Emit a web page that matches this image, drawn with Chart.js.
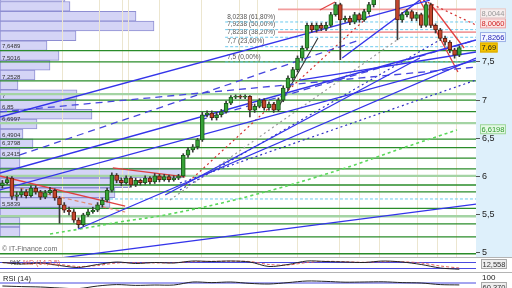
<!DOCTYPE html>
<html>
<head>
<meta charset="utf-8">
<script src="https://cdn.jsdelivr.net/npm/chart.js@4.4.1/dist/chart.umd.min.js"></script>
<style>
  html, body { margin: 0; padding: 0; background: #fff; }
  #wrap { position: relative; width: 512px; height: 288px; overflow: hidden; }
  #wrap canvas, .sep { position: absolute; left: 0; }
  #profile, #main { top: 0; }
  #stoch { top: 258px; }
  #rsi { top: 273px; }
  .sep { width: 512px; height: 1px; background: #b4b4b4; }
</style>
</head>
<body>
<div id="wrap">
  <canvas id="profile" width="512" height="257"></canvas>
  <canvas id="main" width="512" height="257"></canvas>
  <div class="sep" style="top:257px"></div>
  <canvas id="stoch" width="512" height="14"></canvas>
  <div class="sep" style="top:272px"></div>
  <canvas id="rsi" width="512" height="15"></canvas>
</div>
<script>
// price range of the main panel
const yMin = 4.9476, yMax = 8.3115;
const yTicks = [5, 5.5, 6, 6.5, 7, 7.5];

// daily candles
const opens = [5.88,5.92,5.98,5.74,5.76,5.80,5.75,5.85,5.80,5.73,5.79,5.82,5.72,5.63,5.56,5.54,5.43,5.37,5.50,5.54,
  5.56,5.63,5.69,5.82,6.02,5.95,5.92,5.98,5.89,5.95,5.92,5.98,5.93,6.01,5.96,6.00,5.96,5.98,6.01,6.28,
  6.35,6.39,6.48,6.81,6.83,6.77,6.81,6.85,6.96,7.04,7.05,7.04,7.05,6.87,6.92,7.00,6.90,6.95,6.87,7.00,
  7.16,7.29,7.40,7.55,7.68,7.98,7.92,7.98,7.94,7.98,8.12,8.25,8.05,8.07,8.02,8.12,8.05,8.16,8.25,8.36,
  8.40,8.38,8.42,8.35,8.05,8.12,8.16,8.07,8.12,7.98,8.25,7.98,7.92,7.81,7.76,7.66,7.59];
const closes = [5.92,5.96,5.74,5.76,5.80,5.75,5.85,5.80,5.73,5.79,5.82,5.72,5.63,5.56,5.54,5.43,5.37,5.50,5.54,5.56,
  5.63,5.69,5.82,6.02,5.95,5.92,5.98,5.89,5.95,5.92,5.98,5.93,6.01,5.96,6.00,5.96,5.98,6.01,6.28,6.35,
  6.39,6.48,6.81,6.83,6.77,6.81,6.85,6.96,7.04,7.05,7.04,7.05,6.87,6.92,7.00,6.90,6.95,6.87,7.00,7.16,
  7.29,7.40,7.55,7.68,7.98,7.92,7.98,7.94,7.98,8.12,8.25,8.05,8.07,8.02,8.12,8.05,8.16,8.25,8.36,8.40,
  8.38,8.42,8.35,8.05,8.12,8.16,8.07,8.12,7.98,8.25,7.98,7.92,7.81,7.76,7.66,7.59,7.69];
const highs = [5.95,6.00,6.00,5.80,5.84,5.83,5.88,5.88,5.82,5.82,5.86,5.84,5.74,5.66,5.60,5.57,5.46,5.52,5.57,5.60,
  5.66,5.72,5.85,6.05,6.04,5.98,6.01,6.00,5.98,5.97,6.01,6.00,6.04,6.03,6.03,6.02,6.01,6.03,6.30,6.38,
  6.42,6.50,6.84,6.86,6.86,6.84,6.88,6.99,7.06,7.07,7.07,7.07,7.06,6.95,7.02,7.02,6.98,6.97,7.03,7.19,
  7.32,7.43,7.58,7.71,8.01,8.01,8.01,8.01,8.02,8.15,8.28,8.27,8.10,8.10,8.15,8.14,8.19,8.28,8.39,8.43,
  8.43,8.45,8.44,8.37,8.15,8.19,8.18,8.15,8.14,8.28,8.27,8.00,7.94,7.84,7.78,7.68,7.71];
const lows = [5.85,5.90,5.70,5.69,5.73,5.72,5.73,5.77,5.70,5.71,5.77,5.69,5.39,5.53,5.50,5.40,5.33,5.35,5.48,5.52,
  5.54,5.60,5.67,5.80,5.92,5.88,5.90,5.86,5.87,5.89,5.90,5.90,5.91,5.93,5.94,5.93,5.94,5.96,5.99,6.25,
  6.32,6.36,6.46,6.78,6.74,6.74,6.78,6.83,6.94,7.02,7.02,7.02,6.78,6.84,6.90,6.87,6.87,6.84,6.85,6.98,
  7.13,7.26,7.37,7.52,7.66,7.89,7.89,7.91,7.91,7.96,8.10,7.53,8.02,7.99,8.00,8.02,8.03,8.13,8.22,8.33,
  8.35,8.35,8.32,7.79,8.02,8.09,8.04,8.04,7.95,7.96,7.95,7.88,7.78,7.72,7.62,7.55,7.57];

// volume at price (left profile)
const profilePrices = [8.356,8.228,8.099,7.971,7.843,7.714,7.586,7.458,7.329,7.201,7.073,6.944,6.816,
  6.688,6.559,6.431,6.303,6.174,6.046,5.918,5.789,5.661,5.533,5.404,5.276];
const profileVolumes = [65,70,136,154,76,47,59,50,35,18,77,76,92,37,23,33,20,20,182,130,115,110,60,20,20];

// horizontal support / resistance levels
const levelValues = [7.6489, 7.5016, 7.2528, 7, 6.85, 6.4904, 6.3798, 6.2415, 6.10, 5.89, 5.80, 5.5839, 5.38, 5.21, 4.99];
const paleLevelValues = [7.08, 6.6997, 6.01, 5.48];
const levelLabelValues = [7.6489, 7.5016, 7.2528, 7, 6.85, 6.6997, 6.4904, 6.3798, 6.2415, 5.5839];
const levelLabels = ['7,6489', '7,5016', '7,2528', '7', '6,85', '6,6997', '6,4904', '6,3798', '6,2415', '5,5839'];

// fibonacci retracement
const fibStart = 46.8;
const fibValues = [8.0238, 7.9238, 7.8238, 7.7, 7.5];
const fibLabels = ['8,0238 (61,80%)', '7,9238 (50,00%)', '7,8238 (38,20%)', '7,7 (23,60%)', '7,5 (0,00%)'];
const fibLow = [20.5, 5.707];
const pinkValues = [8.19, 7.89];
const pinkStart = 57.9;

// trend lines [x1, price1, x2, price2]
const blueLines = [[-0.5,6.78,89.8,8.31],[-0.5,6.047,99.5,7.788],[-0.5,5.825,99.5,7.526],[15.9,5.314,99.5,7.552],
  [12.1,4.934,99.5,5.641],[34.2,5.759,87.7,7.552],[62.5,7.264,99.5,7.631],[71.4,7.552,87.7,8.31]];
const blueDashLines = [[-0.5,6.846,99.5,7.434],[3.7,6.283,75.1,7.788],[41.5,6.741,99.5,7.788]];
const blueDotLines = [[37.3,5.825,91.9,7.788],[37.3,5.916,99.5,7.264]];
const redDotLines = [[38.4,5.890,77.2,8.115],[88.4,8.31,99.5,7.984]];
const grayDotLines = [[35.2,5.694,83.5,7.814]];
const redLines = [[-0.5,6.008,25.8,5.615],[23.2,6.113,38.4,5.995],[87.7,8.31,95.7,7.369],[89.8,8.272,97.0,7.683],[66.7,8.181,69.9,8.285]];
const salmonDashLines = [[3.7,5.851,25.8,5.537]];
const blackLines = [[57.9,6.898,66.3,7.814]];

// moving average (green dotted)
const maIdx = [10.0, 16.3, 24.7, 35.2, 52.0, 71.4, 83.5, 95.5];
const maValues = [5.249, 5.314, 5.406, 5.510, 5.746, 6.100, 6.361, 6.610];

// right side price tags
const tagValues = [6.6198, 7.69, 7.8266, 8.0060, 8.0044];
const tagLabels = ['6,6198', '7,69', '7,8266', '8,0060', '8,0044'];

// vertical grid positions
const gridIdx = [12.7, 20.5, 25.3, 26.4, 33.1, 41.9, 49.9, 53.7, 61.9, 70.9, 75.1, 79.3, 87.3, 91.5, 95.5];

// indicators
const indIdx = [0,4,8,12,16,20,24,28,32,36,40,44,48,52,56,60,64,68,72,76,80,84,88,92,96];
const stochK = [80,65,75,50,30,60,85,70,80,75,95,90,95,85,40,60,95,90,85,80,95,85,60,25,12.6];
const stochD = [78,70,70,60,40,50,75,78,76,78,88,92,93,90,60,55,80,92,88,82,88,88,75,45,25];
const stochLevels = [20, 80];
const rsiValues = [55,52,50,45,42,55,62,58,60,60,75,72,75,68,65,72,80,78,74,75,76,72,70,62,60.37];
const rsiLevels = [70, 30];

const FONT = '"Liberation Sans", Arial, sans-serif';
const fmt = v => String(v).replace('.', ',');

const seg = (list, color, width, dash, order) => list.map(s => ({
  type: 'line', data: [{ x: s[0], y: s[1] }, { x: s[2], y: s[3] }],
  borderColor: color, borderWidth: width, borderDash: dash, pointRadius: 0, order
}));
const hline = (values, from, color, width, dash, order) => values.map(v => ({
  type: 'line', data: [{ x: from, y: v }, { x: 99.5, y: v }],
  borderColor: color, borderWidth: width, borderDash: dash, pointRadius: 0, order
}));

// volume profile, drawn behind the main chart
new Chart(document.getElementById('profile'), {
  type: 'bar',
  data: {
    datasets: [{
      data: profilePrices.map((p, i) => ({ x: profileVolumes[i], y: p })),
      backgroundColor: '#d4d4f6',
      borderColor: '#8e8ed2',
      borderWidth: 1,
      borderSkipped: false,
      barPercentage: 1,
      categoryPercentage: 1
    }]
  },
  options: {
    indexAxis: 'y',
    responsive: false, animation: false, events: [], devicePixelRatio: 1,
    plugins: { legend: { display: false }, tooltip: { enabled: false } },
    scales: {
      x: { type: 'linear', min: 0, max: 512, display: false },
      y: { type: 'linear', min: yMin, max: yMax, display: false, offset: false }
    }
  }
});

const mainText = {
  id: 'mainText',
  beforeDraw(chart) {
    const { ctx, chartArea: a } = chart;
    ctx.save();
    ctx.fillStyle = '#def0fb';
    ctx.fillRect(a.right, 0, chart.width - a.right, chart.height);
    ctx.restore();
  },
  beforeDatasetsDraw(chart) {
    const { ctx, scales: { x, y } } = chart;
    ctx.save();
    ctx.textBaseline = 'bottom';
    ctx.font = '6px ' + FONT;
    ctx.fillStyle = '#333';
    levelLabels.forEach((t, i) => ctx.fillText(t, 2, y.getPixelForValue(levelLabelValues[i]) - 1));
    ctx.font = '6.5px ' + FONT;
    ctx.fillStyle = '#555';
    fibLabels.forEach((t, i) => ctx.fillText(t, x.getPixelForValue(fibStart) + 2, y.getPixelForValue(fibValues[i]) - 2));
    ctx.font = '7px ' + FONT;
    ctx.fillStyle = '#666';
    ctx.fillText('\u00a9 IT-Finance.com', 2, 253);
    ctx.restore();
  },
  afterDraw(chart) {
    const { ctx, chartArea: a, scales: { y } } = chart;
    const styles = [
      { bg: '#e4f8e4', fg: '#2e9a2e', bd: '#9ad49a' },
      { bg: '#f4c400', fg: '#222', bd: '#d8a800' },
      { bg: '#f2f6ff', fg: '#2424b8', bd: '#9ab0e6' },
      { bg: '#fbe4e4', fg: '#d02424', bd: '#eaa0a0' },
      { bg: '#f6eeee', fg: '#999', bd: '#e2c8c8' }
    ];
    ctx.save();
    ctx.font = '7.5px ' + FONT;
    ctx.textBaseline = 'middle';
    let last = Infinity;
    tagValues.forEach((v, i) => {
      let py = y.getPixelForValue(v);
      if (py > last - 10) py = last - 10;
      last = py;
      const w = ctx.measureText(tagLabels[i]).width + 3;
      const s = styles[i];
      ctx.fillStyle = s.bg;
      ctx.fillRect(a.right + 4, py - 5, w, 10);
      ctx.strokeStyle = s.bd;
      ctx.strokeRect(a.right + 4.5, py - 4.5, w - 1, 9);
      ctx.fillStyle = s.fg;
      ctx.fillText(tagLabels[i], a.right + 5.5, py + 0.5);
    });
    ctx.restore();
  }
};

const datasets = [
  {
    type: 'bar',
    data: closes.map((c, i) => ({ x: i, y: [opens[i], c] })),
    backgroundColor: closes.map((c, i) => c >= opens[i] ? '#36a236' : '#c4462c'),
    borderColor: closes.map((c, i) => c >= opens[i] ? '#1d5a1d' : '#5c2010'),
    borderWidth: 1, borderSkipped: false, barThickness: 4, grouped: false, order: 0
  },
  {
    type: 'bar',
    data: highs.map((h, i) => ({ x: i, y: [lows[i], h] })),
    backgroundColor: '#3a3a3a', barThickness: 1, grouped: false, order: 1
  },
  ...seg(blueLines, '#3434ea', 1.3, [], 2),
  ...seg(blueDashLines, '#4646de', 1.3, [7, 5], 2),
  ...seg(blueDotLines, '#3030c4', 1.2, [2, 3], 2),
  ...seg(redDotLines, '#d43030', 1.2, [2, 3], 2),
  ...seg(grayDotLines, '#9a9a9a', 1.2, [2, 3], 2),
  ...seg(redLines, '#e04040', 1.3, [], 2),
  ...seg(salmonDashLines, '#e08a70', 1.2, [4, 3], 2),
  ...seg(blackLines, '#333', 1.1, [], 2),
  {
    type: 'line', data: maIdx.map((v, i) => ({ x: v, y: maValues[i] })),
    borderColor: '#5ad85a', borderWidth: 1.6, borderDash: [3, 3], pointRadius: 0, tension: 0.4, order: 2
  },
  ...hline(pinkValues, pinkStart, '#f29c9c', 1.8, [], 3),
  ...hline(fibValues, fibStart, '#6ccbee', 1, [3, 2], 3),
  ...hline([fibLow[1]], fibLow[0], '#6ccbee', 1, [3, 2], 3),
  ...hline(paleLevelValues, -0.5, '#a4d4a4', 2.4, [], 3),
  ...hline(levelValues, -0.5, '#2a8c2a', 1.3, [], 3)
];

new Chart(document.getElementById('main'), {
  type: 'bar',
  data: { datasets },
  options: {
    responsive: false, animation: false, events: [], devicePixelRatio: 1,
    layout: { padding: 0 },
    plugins: { legend: { display: false }, tooltip: { enabled: false } },
    scales: {
      x: {
        type: 'linear', min: -0.5, max: 99.5, offset: false,
        afterBuildTicks: s => { s.ticks = gridIdx.map(v => ({ value: v })); },
        afterFit: s => { s.height = 0; s.paddingLeft = 0; s.paddingRight = 0; s.paddingTop = 0; s.paddingBottom = 0; },
        ticks: { display: false, padding: 0 },
        grid: { color: '#ece6cf', drawTicks: false, offset: false },
        border: { display: false }
      },
      y: {
        type: 'linear', position: 'right', min: yMin, max: yMax,
        afterBuildTicks: s => { s.ticks = yTicks.map(v => ({ value: v })); },
        afterFit: s => { s.width = 36; s.paddingTop = 0; s.paddingBottom = 0; },
        ticks: { callback: v => fmt(v), color: '#222', padding: 2, font: { size: 9, family: FONT } },
        grid: { drawOnChartArea: false, tickLength: 4, color: '#555' },
        border: { display: false }
      }
    }
  },
  plugins: [mainText]
});

// small indicator panels
function panel(id, sets, min, max, draw) {
  return new Chart(document.getElementById(id), {
    type: 'line',
    data: { datasets: sets },
    options: {
      responsive: false, animation: false, events: [], devicePixelRatio: 1,
      layout: { padding: { right: 36 } },
      plugins: { legend: { display: false }, tooltip: { enabled: false } },
      scales: {
        x: { type: 'linear', min: -0.5, max: 99.5, display: false },
        y: { min, max, display: false }
      }
    },
    plugins: [{ id: id + 'Text', afterDraw: draw }]
  });
}

function tagBox(ctx, x, y, text) {
  const w = ctx.measureText(text).width + 3;
  ctx.fillStyle = '#eeeeee';
  ctx.fillRect(x, y - 5, w, 10);
  ctx.strokeStyle = '#a8a8a8';
  ctx.strokeRect(x + 0.5, y - 4.5, w - 1, 9);
  ctx.fillStyle = '#333';
  ctx.fillText(text, x + 1.5, y + 0.5);
}

panel('stoch', [
  { data: indIdx.map((v, i) => ({ x: v, y: stochK[i] })), borderColor: '#222', borderWidth: 1, pointRadius: 0, tension: 0.3 },
  { data: indIdx.map((v, i) => ({ x: v, y: stochD[i] })), borderColor: '#e06060', borderWidth: 1, borderDash: [3, 2], pointRadius: 0, tension: 0.3 },
  ...stochLevels.map(v => ({ data: [{ x: -0.5, y: v }, { x: 99.5, y: v }], borderColor: '#4a4ae0', borderWidth: 1, pointRadius: 0 }))
], -15, 125, chart => {
  const ctx = chart.ctx;
  ctx.save();
  ctx.font = '7px ' + FONT;
  ctx.textBaseline = 'middle';
  ctx.fillStyle = '#333';
  ctx.fillText('%K', 10, 5);
  ctx.fillStyle = '#e06060';
  ctx.fillText('%D (14,3,5)', 10 + ctx.measureText('%K ').width, 5);
  ctx.font = '7.5px ' + FONT;
  tagBox(ctx, 481, 6, '12,558');
  ctx.restore();
});

panel('rsi', [
  { data: indIdx.map((v, i) => ({ x: v, y: rsiValues[i] })), borderColor: '#222', borderWidth: 1, pointRadius: 0, tension: 0.3 },
  ...rsiLevels.map(v => ({ data: [{ x: -0.5, y: v }, { x: 99.5, y: v }], borderColor: '#4a4ae0', borderWidth: 1, pointRadius: 0 }))
], 45, 120, chart => {
  const ctx = chart.ctx;
  ctx.save();
  ctx.font = '7.5px ' + FONT;
  ctx.textBaseline = 'middle';
  ctx.fillStyle = '#222';
  ctx.fillText('RSI (14)', 3, 6);
  ctx.font = '8px ' + FONT;
  ctx.fillText('100', 482, 5);
  ctx.font = '7.5px ' + FONT;
  tagBox(ctx, 481, 14, '60,370');
  ctx.restore();
});
</script>
</body>
</html>
